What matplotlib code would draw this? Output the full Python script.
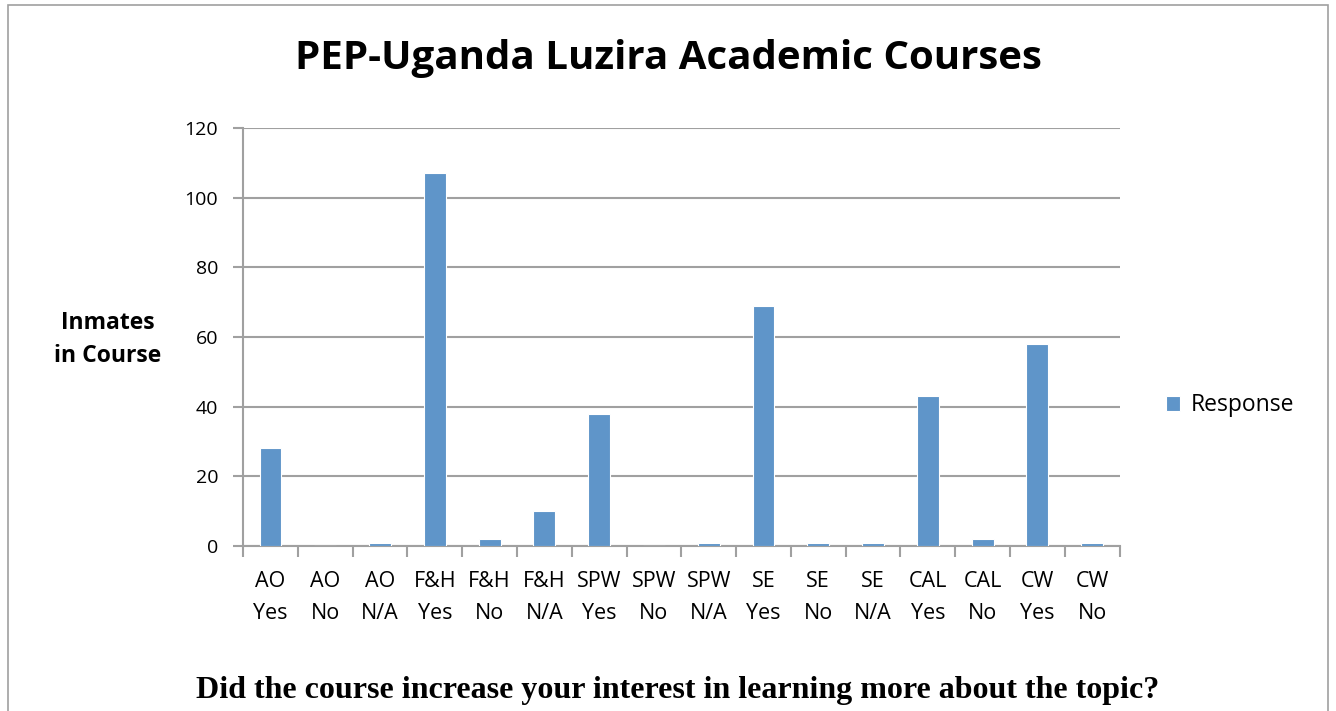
import matplotlib.pyplot as plt
import numpy as np
from matplotlib.patches import Rectangle


categories = ["AO\nYes", "AO\nNo", "AO\nN/A", "F&H\nYes", "F&H\nNo", "F&H\nN/A",
              "SPW\nYes", "SPW\nNo", "SPW\nN/A", "SE\nYes", "SE\nNo", "SE\nN/A",
              "CAL\nYes", "CAL\nNo", "CW\nYes", "CW\nNo"]
response = [28, 0, 1, 107, 2, 10, 38, 0, 1, 69, 1, 1, 43, 2, 58, 1]
y_ticks = [0, 20, 40, 60, 80, 100, 120]


def plot_bar():
    plt.rcParams['font.family'] = ['Open Sans', 'DejaVu Sans']
    fig = plt.figure(figsize=(13.36, 7.11), dpi=100)
    ax = fig.add_axes([0.182, 0.232, 0.656, 0.588])

    grid_col = '#a0a0a0'
    x = np.arange(len(categories))
    bars = ax.bar(x, response, 0.4, color='#5f95c9', edgecolor='white',
                  linewidth=0.8, zorder=3, label='Response')

    ax.set_xlim(-0.5, len(categories) - 0.5)
    ax.set_ylim(0, 120)
    ax.set_yticks(y_ticks)
    ax.yaxis.grid(True, color=grid_col, linewidth=1.5, zorder=0)
    ax.tick_params(axis='y', length=7, width=1.5, color=grid_col,
                   labelsize=14, pad=11)

    ax.set_xticks(x)
    ax.set_xticklabels(categories, fontsize=15.5, linespacing=1.7)
    ax.set_xticks(np.arange(-0.5, len(categories)), minor=True)
    ax.tick_params(axis='x', which='major', length=0, pad=18)
    ax.tick_params(axis='x', which='minor', length=8, width=1.5, color=grid_col)

    for side in ['top', 'right']:
        ax.spines[side].set_visible(False)
    for side in ['left', 'bottom']:
        ax.spines[side].set_color(grid_col)
        ax.spines[side].set_linewidth(1.5)

    fig.text(0.5, 0.918, 'PEP-Uganda Luzira Academic Courses', ha='center',
             va='center', fontsize=29, fontweight='bold')
    fig.text(0.0805, 0.522, 'Inmates\nin Course', ha='center', va='center',
             fontsize=16.5, fontweight='bold', linespacing=1.5)
    fig.text(0.507, 0.029, 'Did the course increase your interest in learning more about the topic?',
             ha='center', va='center', fontsize=23, fontweight='bold',
             family=['Liberation Serif'])

    fig.legend(handles=[bars], labels=['Response'], loc='center left',
               bbox_to_anchor=(0.857, 0.43), frameon=False, fontsize=16.5,
               handlelength=0.65, handleheight=0.65, handletextpad=0.45)

    # chart area border
    fig.patches.append(Rectangle((0.006, -0.05), 0.988, 1.043, transform=fig.transFigure,
                                 fill=False, edgecolor='#a0a0a0', linewidth=1.2))
    fig.savefig('out.png', dpi=100)


if __name__ == "__main__":
    plot_bar()
